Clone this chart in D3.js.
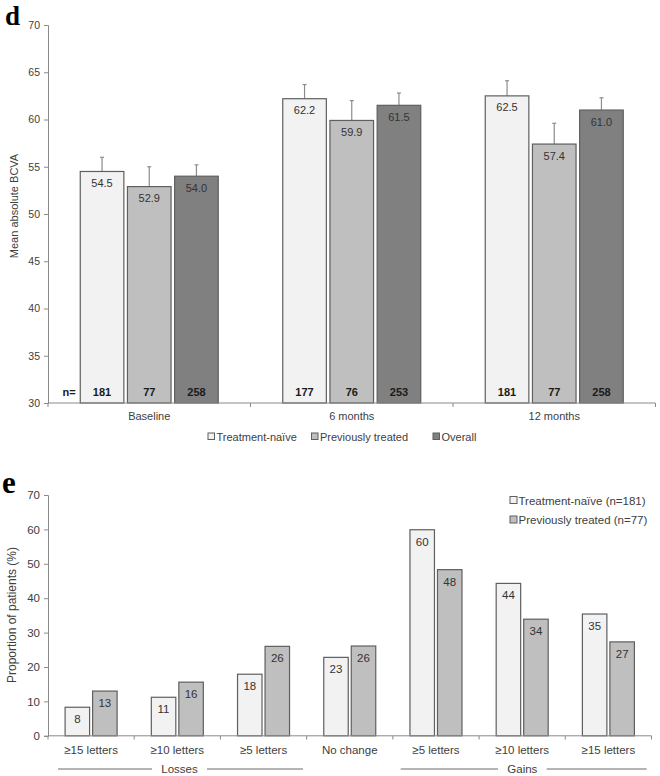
<!DOCTYPE html>
<html>
<head>
<meta charset="utf-8">
<script src="https://cdn.jsdelivr.net/npm/d3@7"></script>
<style>
  html, body { margin: 0; padding: 0; background: #fff; }
  svg { display: block; }
  text { font-family: "Liberation Sans", Arial, sans-serif; }
</style>
</head>
<body>
<svg id="chart" width="660" height="776"></svg>
<script>
// ---------- Panel d data ----------
const timepoints = ["Baseline", "6 months", "12 months"];
const groupsD = ["Treatment-naïve", "Previously treated", "Overall"];
const meanTN = [54.5, 62.2, 62.5];
const meanPT = [52.9, 59.9, 57.4];
const meanAll = [54.0, 61.5, 61.0];
const upperTN = [56.0, 63.7, 64.1];
const upperPT = [55.0, 62.0, 59.6];
const upperAll = [55.2, 62.8, 62.3];
const nTN = [181, 177, 181];
const nPT = [77, 76, 77];
const nAll = [258, 253, 258];
const ticksD = [30, 35, 40, 45, 50, 55, 60, 65, 70];

// ---------- Panel e data ----------
const changeCats = ["≥15 letters", "≥10 letters", "≥5 letters", "No change", "≥5 letters ", "≥10 letters ", "≥15 letters "];
const groupsE = ["Treatment-naïve (n=181)", "Previously treated (n=77)"];
const propTN = [8.3, 11.2, 17.9, 22.8, 59.9, 44.3, 35.4];
const propPT = [13.0, 15.6, 26.0, 26.1, 48.3, 33.9, 27.3];
const ticksE = [0, 10, 20, 30, 40, 50, 60, 70];
const spanLabels = ["Losses", "Gains"];

const svg = d3.select("#chart");
const axisCol = "#8a8a8a";
const textCol = "#404040";
const strokeCol = "#5f5f5f";

// ================= Panel d =================
{
  const colors = ["#f2f2f2", "#bfbfbf", "#808080"];
  const means = [meanTN, meanPT, meanAll];
  const uppers = [upperTN, upperPT, upperAll];
  const ns = [nTN, nPT, nAll];
  const x0 = d3.scaleBand().domain(timepoints).range([48, 655.5]).paddingInner(0).paddingOuter(0);
  const groupW = 138;
  const x1 = d3.scaleBand().domain(groupsD).range([0, groupW]).paddingInner(0.076).paddingOuter(0);
  const y = d3.scaleLinear().domain([30, 70]).range([403, 25]);
  const g = svg.append("g");

  // panel letter
  g.append("text").attr("x", 5).attr("y", 25).text("d")
    .style("font-family", '"Liberation Serif", "Times New Roman", serif')
    .style("font-weight", "bold").style("font-size", "27px").attr("fill", "#000");

  // y axis
  const yAxis = d3.axisLeft(y).tickValues(ticksD).tickSize(4).tickPadding(4);
  const ya = g.append("g").attr("transform", "translate(48,0)").call(yAxis);
  ya.select(".domain").attr("stroke", axisCol);
  ya.selectAll(".tick line").attr("stroke", axisCol);
  ya.selectAll(".tick text").attr("fill", textCol).style("font-size", "10.5px").style("font-family", '"Liberation Sans", Arial, sans-serif');

  g.append("text").attr("transform", "translate(18,206) rotate(-90)")
    .attr("text-anchor", "middle").attr("fill", textCol).style("font-size", "11px")
    .text("Mean absolute BCVA");

  // bars
  timepoints.forEach((tp, i) => {
    const gx = x0(tp) + (x0.bandwidth() - groupW) / 2;
    groupsD.forEach((gr, j) => {
      const v = means[j][i];
      const bx = gx + x1(gr);
      const bw = x1.bandwidth();
      const cx = bx + bw / 2;
      // error bar
      g.append("line").attr("x1", cx).attr("x2", cx).attr("y1", y(v)).attr("y2", y(uppers[j][i]))
        .attr("stroke", "#8c8c8c").attr("stroke-width", 1.2);
      g.append("line").attr("x1", cx - 2).attr("x2", cx + 2).attr("y1", y(uppers[j][i])).attr("y2", y(uppers[j][i]))
        .attr("stroke", "#8c8c8c").attr("stroke-width", 1.2);
      g.append("rect").attr("x", bx).attr("y", y(v)).attr("width", bw).attr("height", y(30) - y(v))
        .attr("fill", colors[j]).attr("stroke", strokeCol).attr("stroke-width", 1.2);
      g.append("text").attr("x", cx).attr("y", y(v) + 15.5).attr("text-anchor", "middle")
        .attr("fill", "#333").style("font-size", "11px").text(d3.format(".1f")(v));
      g.append("text").attr("x", cx).attr("y", 396).attr("text-anchor", "middle")
        .attr("fill", "#1a1a1a").style("font-size", "11px").style("font-weight", "bold").text(ns[j][i]);
    });
  });
  g.append("text").attr("x", 69).attr("y", 396).attr("text-anchor", "middle")
    .attr("fill", "#1a1a1a").style("font-size", "11px").style("font-weight", "bold").text("n=");

  // x axis
  g.append("line").attr("x1", 48).attr("x2", 655.5).attr("y1", 403).attr("y2", 403).attr("stroke", axisCol);
  const bounds = timepoints.map(t => x0(t)).concat([x0.range()[1]]);
  bounds.forEach(b => {
    g.append("line").attr("x1", b).attr("x2", b).attr("y1", 403).attr("y2", 407).attr("stroke", axisCol);
  });
  timepoints.forEach(tp => {
    g.append("text").attr("x", x0(tp) + x0.bandwidth() / 2).attr("y", 420).attr("text-anchor", "middle")
      .attr("fill", textCol).style("font-size", "11px").text(tp);
  });

  // legend
  const legX = [208, 311.5, 433];
  groupsD.forEach((gr, j) => {
    g.append("rect").attr("x", legX[j]).attr("y", 433).attr("width", 6.5).attr("height", 6.5)
      .attr("fill", colors[j]).attr("stroke", strokeCol).attr("stroke-width", 1);
    g.append("text").attr("x", legX[j] + 8.5).attr("y", 440.5).attr("fill", textCol)
      .style("font-size", "11px").text(gr);
  });
}

// ================= Panel e =================
{
  const colors = ["#f2f2f2", "#bfbfbf"];
  const vals = [propTN, propPT];
  const x0 = d3.scaleBand().domain(changeCats).range([48, 651.5]).paddingInner(0).paddingOuter(0);
  const groupW = 52;
  const x1 = d3.scaleBand().domain(groupsE).range([0, groupW]).paddingInner(0.11).paddingOuter(0);
  const y = d3.scaleLinear().domain([0, 70]).range([735.8, 495]);
  const g = svg.append("g");

  g.append("text").attr("x", 2).attr("y", 493).text("e")
    .style("font-family", '"Liberation Serif", "Times New Roman", serif')
    .style("font-weight", "bold").style("font-size", "31px").attr("fill", "#000");

  const yAxis = d3.axisLeft(y).tickValues(ticksE).tickSize(4).tickPadding(4);
  const ya = g.append("g").attr("transform", "translate(48,0)").call(yAxis);
  ya.select(".domain").attr("stroke", axisCol);
  ya.selectAll(".tick line").attr("stroke", axisCol);
  ya.selectAll(".tick text").attr("fill", textCol).style("font-size", "11.5px").style("font-family", '"Liberation Sans", Arial, sans-serif');

  g.append("text").attr("transform", "translate(16,615) rotate(-90)")
    .attr("text-anchor", "middle").attr("fill", textCol).style("font-size", "12px")
    .text("Proportion of patients (%)");

  changeCats.forEach((c, i) => {
    const gx = x0(c) + (x0.bandwidth() - groupW) / 2;
    groupsE.forEach((gr, j) => {
      const v = vals[j][i];
      const bx = gx + x1(gr);
      const bw = x1.bandwidth();
      g.append("rect").attr("x", bx).attr("y", y(v)).attr("width", bw).attr("height", y(0) - y(v))
        .attr("fill", colors[j]).attr("stroke", strokeCol).attr("stroke-width", 1.2);
      g.append("text").attr("x", bx + bw / 2).attr("y", y(v) + 16).attr("text-anchor", "middle")
        .attr("fill", "#333").style("font-size", "11.5px").text(d3.format(".0f")(v));
    });
    g.append("text").attr("x", x0(c) + x0.bandwidth() / 2).attr("y", 754).attr("text-anchor", "middle")
      .attr("fill", textCol).style("font-size", "11.5px").text(c.trim());
  });

  g.append("line").attr("x1", 48).attr("x2", 651.5).attr("y1", 735.8).attr("y2", 735.8).attr("stroke", axisCol);
  const bounds = changeCats.map(t => x0(t)).concat([x0.range()[1]]);
  bounds.forEach(b => {
    g.append("line").attr("x1", b).attr("x2", b).attr("y1", 735.8).attr("y2", 739.5).attr("stroke", axisCol);
  });

  // spans: Losses (cats 0-2), Gains (cats 4-6)
  const lineL = [[58, 152, 207, 303], [400.7, 498, 546.7, 646.7]];
  spanLabels.forEach((lab, k) => {
    const cx = (lineL[k][1] + lineL[k][2]) / 2;
    g.append("line").attr("x1", lineL[k][0]).attr("x2", lineL[k][1]).attr("y1", 769).attr("y2", 769).attr("stroke", "#6a6a6a");
    g.append("line").attr("x1", lineL[k][2]).attr("x2", lineL[k][3]).attr("y1", 769).attr("y2", 769).attr("stroke", "#6a6a6a");
    g.append("text").attr("x", cx).attr("y", 773).attr("text-anchor", "middle")
      .attr("fill", textCol).style("font-size", "11.5px").text(lab);
  });

  // legend
  groupsE.forEach((gr, j) => {
    const ly = 497 + j * 19.5;
    g.append("rect").attr("x", 510).attr("y", ly - 0.5).attr("width", 7).attr("height", 7)
      .attr("fill", colors[j]).attr("stroke", strokeCol).attr("stroke-width", 1);
    g.append("text").attr("x", 518.5).attr("y", ly + 7.5).attr("fill", textCol)
      .style("font-size", "11.5px").text(gr);
  });
}
</script>
</body>
</html>
